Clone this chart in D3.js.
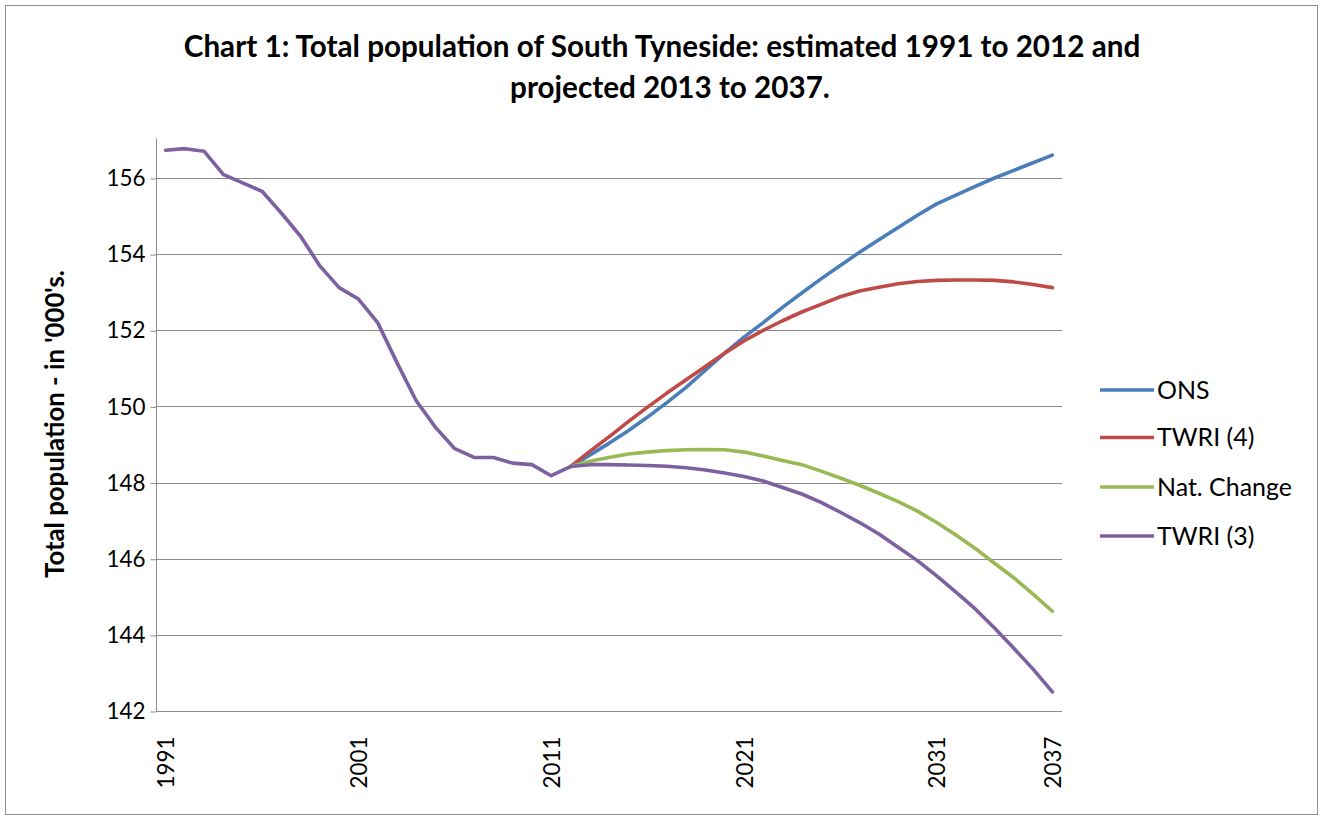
<!DOCTYPE html>
<html>
<head>
<meta charset="utf-8">
<script src="https://cdn.jsdelivr.net/npm/d3@7"></script>
<style>
  html, body { margin: 0; padding: 0; background: #ffffff; }
  svg { display: block; }
  text { font-family: Lato, "Open Sans", "Liberation Sans", sans-serif; }
</style>
</head>
<body>
<svg id="chart" width="1324" height="818"></svg>
<script>
// ---- data ----
const years = [1991,1992,1993,1994,1995,1996,1997,1998,1999,2000,2001,2002,2003,2004,2005,2006,2007,2008,2009,2010,2011,2012,2013,2014,2015,2016,2017,2018,2019,2020,2021,2022,2023,2024,2025,2026,2027,2028,2029,2030,2031,2032,2033,2034,2035,2036,2037];
const estimatedYears = [1991,1992,1993,1994,1995,1996,1997,1998,1999,2000,2001,2002,2003,2004,2005,2006,2007,2008,2009,2010,2011,2012];
const estimated = [156.73,156.77,156.70,156.09,155.87,155.65,155.08,154.47,153.69,153.12,152.82,152.20,151.15,150.15,149.45,148.89,148.66,148.66,148.51,148.47,148.18,148.42];
const projYears = [2012,2013,2014,2015,2016,2017,2018,2019,2020,2021,2022,2023,2024,2025,2026,2027,2028,2029,2030,2031,2032,2033,2034,2035,2036,2037];
const ons =       [148.42,148.72,149.03,149.36,149.72,150.10,150.50,150.95,151.40,151.82,152.20,152.60,152.98,153.35,153.70,154.05,154.38,154.70,155.02,155.32,155.55,155.78,156.00,156.20,156.40,156.60];
const twri4 =     [148.42,148.82,149.20,149.60,149.98,150.35,150.70,151.05,151.40,151.72,152.00,152.25,152.48,152.68,152.88,153.03,153.13,153.22,153.28,153.31,153.32,153.32,153.31,153.27,153.20,153.12];
const natChange = [148.42,148.56,148.66,148.75,148.80,148.84,148.86,148.87,148.86,148.80,148.70,148.58,148.47,148.30,148.12,147.93,147.72,147.50,147.25,146.95,146.62,146.27,145.88,145.50,145.07,144.62];
const twri3Proj = [148.42,148.47,148.47,148.46,148.45,148.43,148.39,148.33,148.25,148.16,148.04,147.87,147.70,147.48,147.22,146.95,146.65,146.30,145.95,145.55,145.12,144.68,144.18,143.65,143.10,142.50];
const seriesNames = ["ONS", "TWRI (4)", "Nat. Change", "TWRI (3)"];
const seriesColors = ["#4A7EBB", "#BE4B48", "#98B954", "#7D60A0"];
const xTickLabels = [1991, 2001, 2011, 2021, 2031, 2037];
const yTickLabels = [142, 144, 146, 148, 150, 152, 154, 156];
const titleLines = ["Chart 1: Total population of South Tyneside: estimated 1991 to 2012 and", "projected 2013 to 2037."];
const yAxisTitle = "Total population - in '000's.";

// ---- build series ----
const twri3All = estimatedYears.map((y, i) => ({year: y, value: estimated[i]}))
  .concat(projYears.slice(1).map((y, i) => ({year: y, value: twri3Proj[i + 1]})));
const series = [
  projYears.map((y, i) => ({year: y, value: ons[i]})),
  projYears.map((y, i) => ({year: y, value: twri4[i]})),
  projYears.map((y, i) => ({year: y, value: natChange[i]})),
  twri3All
];

// ---- layout ----
const svg = d3.select("#chart");
const plot = {left: 156, right: 1062, top: 138, bottom: 711};

svg.append("rect").attr("x", 0).attr("y", 0).attr("width", 1324).attr("height", 818).attr("fill", "#ffffff");
svg.append("rect").attr("x", 5.5).attr("y", 5.5).attr("width", 1312).attr("height", 809)
  .attr("fill", "none").attr("stroke", "#8f8f8f").attr("stroke-width", 1);

const x = d3.scalePoint().domain(years).range([plot.left, plot.right]).padding(0.5);
const y = d3.scaleLinear().domain([142, 157.05]).range([plot.bottom, plot.top]);

function fitFont(sel, size, target) {
  sel.style("font-size", size + "px");
  const w = sel.node().getComputedTextLength();
  const s = size * target / w;
  sel.style("font-size", s + "px");
  return s;
}

// gridlines
svg.append("g").selectAll("line").data(yTickLabels.filter(v => v > 142)).join("line")
  .attr("x1", plot.left).attr("x2", plot.right)
  .attr("y1", d => Math.round(y(d)) + 0.5).attr("y2", d => Math.round(y(d)) + 0.5)
  .attr("stroke", "#8a8a8a").attr("stroke-width", 1);

// y axis
const yAxis = d3.axisLeft(y).tickValues(yTickLabels).tickSize(6).tickPadding(5).tickFormat(d3.format("d"));
const gy = svg.append("g").attr("transform", `translate(${plot.left + 0.5},0.5)`).call(yAxis);
gy.select(".domain").attr("stroke", "#8a8a8a").attr("d", `M0,${plot.top}V${plot.bottom}`);
gy.selectAll(".tick line").attr("stroke", "#8a8a8a");
gy.selectAll(".tick text").attr("fill", "#000").attr("font-family", null)
  .style("font-family", "Lato, 'Open Sans', sans-serif");
let tickFs = 22;
{
  const t = gy.selectAll(".tick text").filter(d => d === 156);
  tickFs = fitFont(t, 22, 39);
  gy.selectAll(".tick text").style("font-size", tickFs + "px");
}

// x axis
const xAxis = d3.axisBottom(x).tickValues(xTickLabels).tickSize(0).tickPadding(0);
const gx = svg.append("g").attr("transform", `translate(0,${plot.bottom + 0.5})`).call(xAxis);
gx.select(".domain").attr("stroke", "#8a8a8a").attr("d", `M${plot.left},0H${plot.right}`);
gx.selectAll(".tick text")
  .attr("fill", "#000")
  .attr("transform", "translate(0,25) rotate(-90)")
  .attr("x", 0).attr("y", 0).attr("dy", "0.36em")
  .attr("text-anchor", "end")
  .style("font-family", "Lato, 'Open Sans', sans-serif")
  .style("font-size", tickFs + "px");

// lines
const line = d3.line().x(d => x(d.year)).y(d => y(d.value));
svg.append("g").selectAll("path").data(series).join("path")
  .attr("d", line)
  .attr("fill", "none")
  .attr("stroke", (d, i) => seriesColors[i])
  .attr("stroke-width", 3.6)
  .attr("stroke-linejoin", "round")
  .attr("stroke-linecap", "round");

// title
const tg = svg.append("g");
const t1 = tg.append("text").attr("x", 662).attr("y", 57).attr("text-anchor", "middle")
  .attr("font-weight", "bold").attr("fill", "#000").text(titleLines[0]);
const titleFs = fitFont(t1, 26, 957);
tg.append("text").attr("x", 670).attr("y", 98).attr("text-anchor", "middle")
  .attr("font-weight", "bold").attr("fill", "#000").style("font-size", titleFs + "px").text(titleLines[1]);

// y axis title
const yt = svg.append("text")
  .attr("transform", "translate(64,424) rotate(-90)")
  .attr("text-anchor", "middle").attr("font-weight", "bold").attr("fill", "#000")
  .text(yAxisTitle);
fitFont(yt, 19, 308);

// legend
const legend = svg.append("g");
const legendY = [390, 437.5, 487, 536];
let legFs = 19;
const lrows = legend.selectAll("g").data(seriesNames).join("g")
  .attr("transform", (d, i) => `translate(1100,${legendY[i]})`);
lrows.append("line").attr("x1", 0).attr("x2", 54).attr("y1", 0).attr("y2", 0)
  .attr("stroke", (d, i) => seriesColors[i]).attr("stroke-width", 3.6);
const ltexts = lrows.append("text").attr("x", 57).attr("y", 0).attr("dy", "0.36em")
  .attr("fill", "#000").text(d => d);
legFs = fitFont(ltexts.filter(d => d === "Nat. Change"), 19, 135);
ltexts.style("font-size", legFs + "px");
</script>
</body>
</html>
